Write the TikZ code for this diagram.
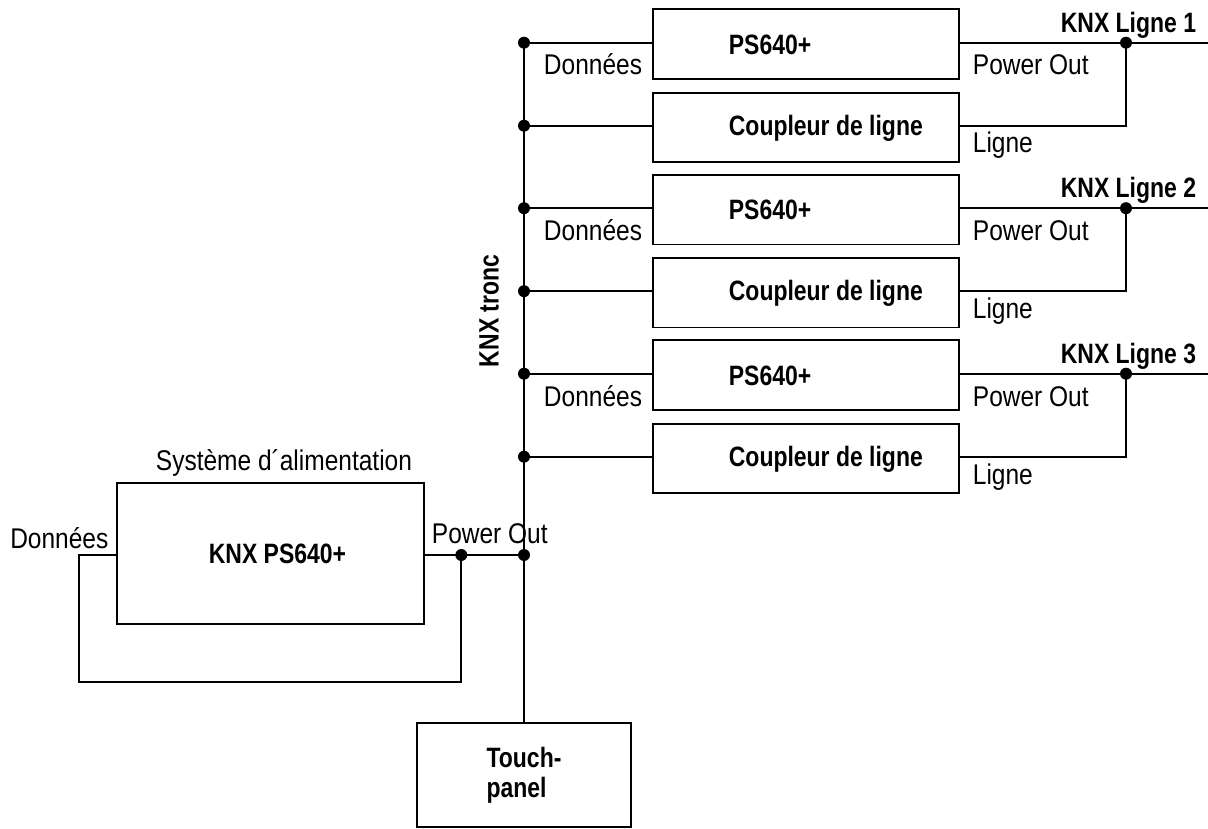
\documentclass[tikz,border=0pt]{standalone}
\usepackage{fontspec}
\setmainfont{Liberation Sans}[UprightFeatures={FakeStretch=0.86},BoldFeatures={FakeStretch=0.82}]
\begin{document}
\begin{tikzpicture}[x=1pt,y=-1pt,line width=1.8pt,
  box/.style={draw,rectangle,inner sep=0pt,line width=1.8pt},
  dotn/.style={circle,fill,inner sep=0pt,minimum size=12pt},
  lbl/.style={inner sep=0pt,font=\fontsize{28.5}{30}\selectfont},
  blbl/.style={inner sep=0pt,font=\fontsize{28}{30}\selectfont\bfseries}]
\useasboundingbox (0,0) rectangle (1208,829);

\foreach \g/\k in {0/1,1/2,2/3}{
  \pgfmathsetmacro{\ya}{42.7+165.5*\g}
  \pgfmathsetmacro{\yb}{\ya+83}
  \node[box,minimum width=306.3pt,minimum height=69.7pt] (ps\k) at (805.9,\ya+1.5) {};
  \node[box,minimum width=306.3pt,minimum height=69.3pt] (cp\k) at (805.9,\ya+84.6) {};
  \node[dotn] (ta\k) at (524,\ya) {};
  \node[dotn] (tb\k) at (524,\yb) {};
  \node[dotn] (j\k) at (1126,\ya) {};
  \coordinate (e\k) at (1208,\ya);
  \draw (ta\k.center) -- (ta\k.center -| ps\k.west);
  \draw (ps\k.east |- ta\k.center) -- (j\k.center) -- (e\k);
  \draw (tb\k.center) -- (tb\k.center -| cp\k.west);
  \draw (cp\k.east |- tb\k.center) -| (j\k.center);
  \node[lbl,anchor=base east] (d\k) at (643,\ya+32.3) {Données};
  \node[lbl,anchor=base west] (po\k) at (972,\ya+32.3) {Power Out};
  \node[lbl,anchor=base west] (li\k) at (972,\yb+27.3) {Ligne};
  \node[blbl,anchor=base east] (kl\k) at (1197,\ya-10.4) {KNX Ligne \k};
  \node[blbl,anchor=base west] (pst\k) at (728,\ya+11.5) {PS640+};
  \node[blbl,anchor=base west] (cpt\k) at (728,\yb+9.5) {Coupleur de ligne};
}

% main power supply
\node[box,minimum width=307.3pt,minimum height=140.7pt] (knx) at (270.3,553.7) {};
\node[blbl,anchor=base west] (knxt) at (208,563) {KNX PS640+};
\node[lbl,anchor=base west] (sys) at (155,470.7) {Système d´alimentation};
\node[lbl,anchor=base east] (dl) at (109.3,548) {Données};
\node[lbl,anchor=base west] (pol) at (431,543) {Power Out};
\node[dotn] (pw) at (461.3,555) {};
\node[dotn] (tp) at (524,555) {};
\coordinate (lb) at (79.3,682);
\draw (knx.east |- pw.center) -- (pw.center) -- (tp.center);
\draw (pw.center) |- (lb) |- (knx.west |- pw.center);

% touch panel
\node[box,minimum width=214pt,minimum height=103.4pt,align=left,
      font=\fontsize{28}{30}\selectfont\bfseries] (touch) at (524,775) {Touch-\\panel};

% trunk
\draw (ta1.center) -- (touch.north);
\node[blbl,rotate=90] (tronc) at (489,311) {KNX tronc};
\end{tikzpicture}
\end{document}
